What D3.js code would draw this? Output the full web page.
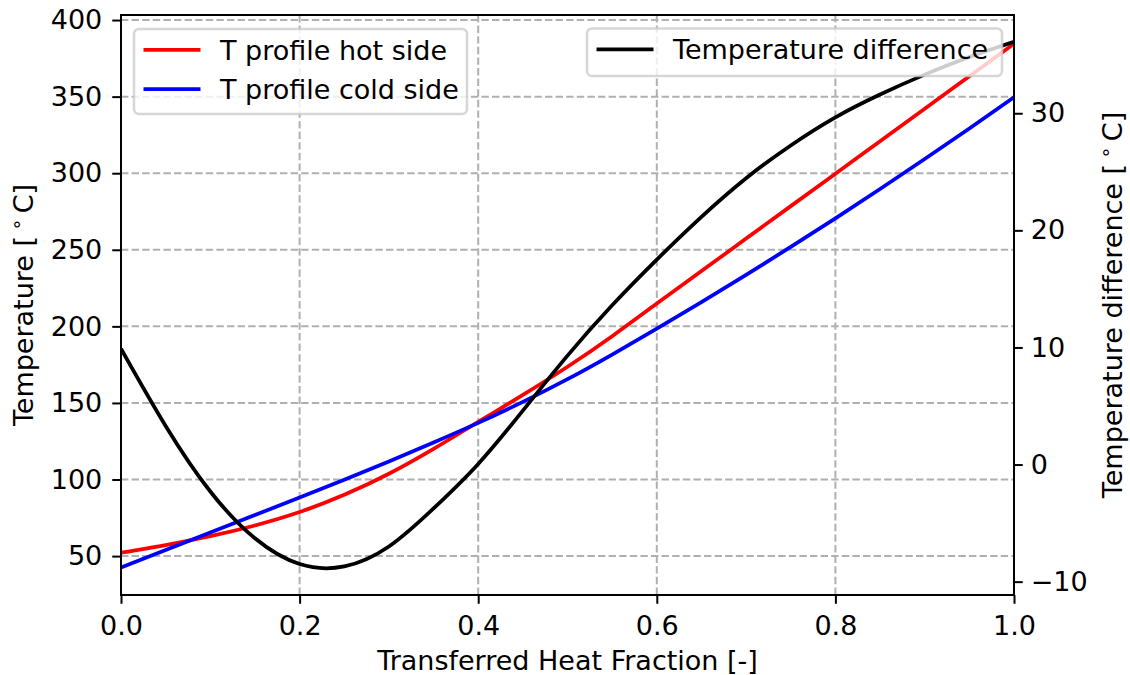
<!DOCTYPE html>
<html>
<head>
<meta charset="utf-8">
<script src="https://cdn.jsdelivr.net/npm/d3@7"></script>
<style>
  html, body { margin: 0; padding: 0; background: #ffffff; }
  text { font-family: "DejaVu Sans", sans-serif; }
</style>
</head>
<body>
<svg id="chart" width="1130" height="675"></svg>
<script>
// ---- data ----
const fraction = [0.00, 0.05, 0.10, 0.15, 0.20, 0.25, 0.30, 0.35, 0.40, 0.45, 0.50,
                  0.55, 0.60, 0.65, 0.70, 0.75, 0.80, 0.85, 0.90, 0.95, 1.00];
const hotSide  = [52.2, 57.2, 63.0, 70.0, 78.75, 90.0, 103.75, 120.0, 137.6, 155.2, 173.6,
                  193.6, 214.9, 236.1, 257.3, 278.5, 299.7, 320.9, 342.1, 363.3, 384.5];
const coldSide = [42.6, 54.0, 65.4, 76.8, 88.2, 99.8, 111.8, 124.2, 137.0, 150.7, 165.5,
                  181.6, 198.5, 215.8, 233.6, 251.9, 270.5, 289.7, 309.3, 329.2, 349.6];
const tempDiff = [9.9, 3.3, -2.3, -6.3, -8.5, -8.7, -7.0, -3.75, 0.05, 4.6, 9.3,
                  13.6, 17.5, 21.15, 24.45, 27.25, 29.65, 31.6, 33.3, 34.8, 36.1];

const xTicks = [0.0, 0.2, 0.4, 0.6, 0.8, 1.0];
const yLeftTicks = [50, 100, 150, 200, 250, 300, 350, 400];
const yRightTicks = [-10, 0, 10, 20, 30];
const seriesNames = ["T profile hot side", "T profile cold side", "Temperature difference"];

// ---- layout ----
const L = 121, R = 1014, T = 15, B = 595;
const FS = 27;
const svg = d3.select("#chart");

const x = d3.scaleLinear().domain([0, 1]).range([L, R]);
const yL = d3.scaleLinear().domain([24.6, 403.3]).range([B, T]);
const yR = d3.scaleLinear().domain([-11.14, 38.39]).range([B, T]);

svg.append("defs").append("clipPath").attr("id", "clip")
  .append("rect").attr("x", L).attr("y", T).attr("width", R - L).attr("height", B - T);

// grid
const grid = svg.append("g");
grid.selectAll("line.gx").data(xTicks).join("line")
  .attr("x1", d => x(d)).attr("x2", d => x(d)).attr("y1", T).attr("y2", B)
  .attr("stroke", "#b0b0b0").attr("stroke-width", 2).attr("stroke-dasharray", "7.4,3.2");
grid.selectAll("line.gy").data(yLeftTicks).join("line")
  .attr("x1", L).attr("x2", R).attr("y1", d => yL(d)).attr("y2", d => yL(d))
  .attr("stroke", "#b0b0b0").attr("stroke-width", 2).attr("stroke-dasharray", "7.4,3.2");

// lines
const plot = svg.append("g").attr("clip-path", "url(#clip)");
const mkLine = (ys, scale) => d3.line().x((d, i) => x(fraction[i])).y(d => scale(d)).curve(d3.curveNatural)(ys);
plot.append("path").attr("d", mkLine(hotSide, yL)).attr("fill", "none")
  .attr("stroke", "#ff0000").attr("stroke-width", 3.75);
plot.append("path").attr("d", mkLine(coldSide, yL)).attr("fill", "none")
  .attr("stroke", "#0000ff").attr("stroke-width", 3.75);
plot.append("path").attr("d", mkLine(tempDiff, yR)).attr("fill", "none")
  .attr("stroke", "#000000").attr("stroke-width", 3.75);

// axes
const fmtMinus = d => (d < 0 ? "\u2212" + Math.abs(d) : String(d));
const styleAxis = (g) => {
  g.select(".domain").remove();
  g.selectAll(".tick line").attr("stroke", "#000").attr("stroke-width", 2);
  g.selectAll(".tick text").attr("fill", "#000").style("font-size", FS + "px")
    .style("font-family", "'DejaVu Sans', sans-serif");
};
svg.append("g").attr("transform", `translate(0,${B})`)
  .call(d3.axisBottom(x).tickValues(xTicks).tickFormat(d3.format(".1f")).tickSize(8.75).tickPadding(12))
  .call(styleAxis);
svg.append("g").attr("transform", `translate(${L},0)`)
  .call(d3.axisLeft(yL).tickValues(yLeftTicks).tickFormat(d => d).tickSize(8.75).tickPadding(10))
  .call(styleAxis);
svg.append("g").attr("transform", `translate(${R},0)`)
  .call(d3.axisRight(yR).tickValues(yRightTicks).tickFormat(fmtMinus).tickSize(8.75).tickPadding(8))
  .call(styleAxis);

// spines
svg.append("rect").attr("x", L).attr("y", T).attr("width", R - L).attr("height", B - T)
  .attr("fill", "none").attr("stroke", "#000").attr("stroke-width", 2);

// axis labels
svg.append("text").attr("x", (L + R) / 2).attr("y", 670).attr("text-anchor", "middle")
  .style("font-size", FS + "px").text("Transferred Heat Fraction [-]");

function degLabel(sel, base) {
  sel.append("tspan").text(base + " [\u2009");
  sel.append("tspan").text("\u2218").attr("dy", -10).style("font-size", "19px");
  sel.append("tspan").text("\u2009C]").attr("dy", 10);
}
const ylab = svg.append("text").attr("transform", `translate(33,${(T + B) / 2}) rotate(-90)`)
  .attr("text-anchor", "middle").style("font-size", FS + "px");
degLabel(ylab, "Temperature");
const yrlab = svg.append("text").attr("transform", `translate(1122,${(T + B) / 2}) rotate(-90)`)
  .attr("text-anchor", "middle").style("font-size", FS + "px");
degLabel(yrlab, "Temperature difference");

// legends
function legend(x0, y0, w, h, items) {
  const g = svg.append("g");
  g.append("rect").attr("x", x0).attr("y", y0).attr("width", w).attr("height", h)
    .attr("rx", 5).attr("fill", "#ffffff").attr("fill-opacity", 0.8)
    .attr("stroke", "#cccccc").attr("stroke-opacity", 0.8).attr("stroke-width", 2.5);
  items.forEach((it, i) => {
    const yy = y0 + 20.8 + i * 39.3;
    g.append("line").attr("x1", x0 + 9.5).attr("x2", x0 + 66.5).attr("y1", yy).attr("y2", yy)
      .attr("stroke", it.color).attr("stroke-width", 3.75);
    g.append("text").attr("x", x0 + 86).attr("y", yy + 10).style("font-size", FS + "px").text(it.name);
  });
}
legend(134, 29, 333, 85, [{name: seriesNames[0], color: "#ff0000"}, {name: seriesNames[1], color: "#0000ff"}]);
legend(587, 28.5, 415, 47.5, [{name: seriesNames[2], color: "#000000"}]);
</script>
</body>
</html>
